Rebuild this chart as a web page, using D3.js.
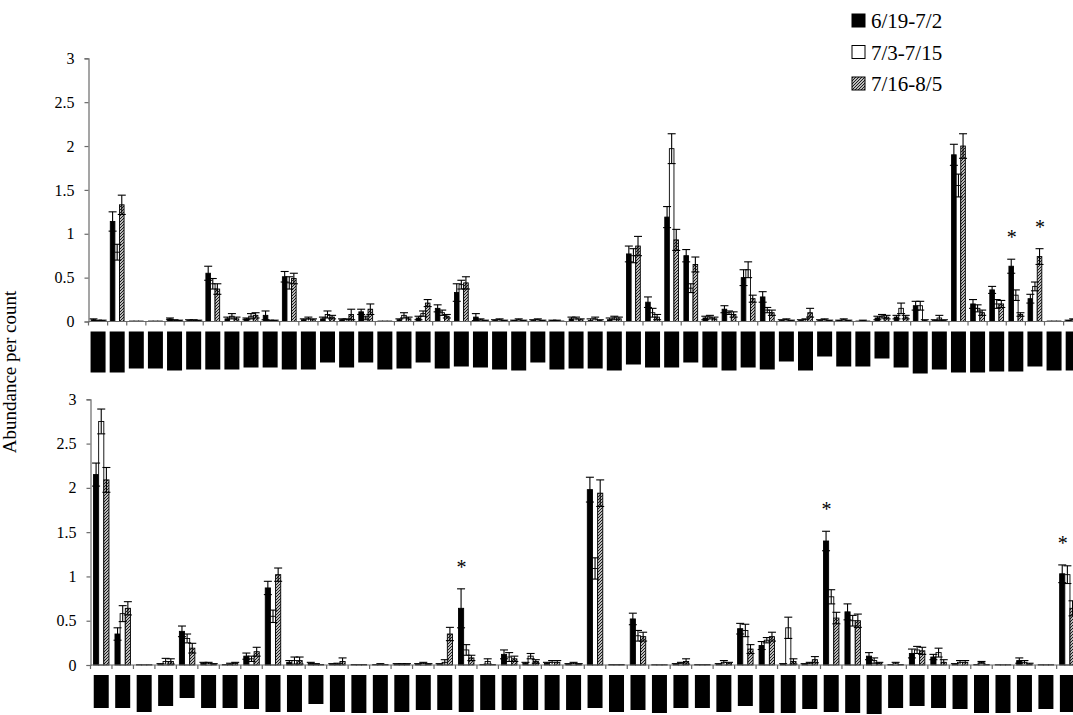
<!DOCTYPE html>
<html><head><meta charset="utf-8">
<script src="https://cdn.jsdelivr.net/npm/d3@7"></script>
<style>
html,body{margin:0;padding:0;background:#fff;}
svg{display:block;}
text{font-family:"Liberation Serif","Times New Roman",serif;}
</style></head>
<body>
<svg id="chart" width="1073" height="715"></svg>
<script>
// ---------- DATA ----------
const seriesNames = ["6/19-7/2", "7/3-7/15", "7/16-8/5"];
const yTickValues = [0, 0.5, 1, 1.5, 2, 2.5, 3];
const yTitle = "Abundance per count";

// top panel (52 categories)
const topA = [0.02,1.14,0.005,0.005,0.03,0.01,0.55,0.03,0.03,0.07,0.51,0.02,0.03,0.02,0.11,0.005,0.02,0.04,0.15,0.33,0.05,0.01,0.01,0.01,0.01,0.03,0.01,0.02,0.77,0.22,1.19,0.75,0.04,0.14,0.5,0.28,0.01,0.01,0.01,0.01,0.005,0.04,0.05,0.18,0.01,1.9,0.2,0.36,0.63,0.26,0.005,0.01];
const topB = [0.01,0.79,0.005,0.005,0.01,0.01,0.43,0.06,0.06,0.01,0.44,0.03,0.08,0.02,0.04,0.005,0.07,0.09,0.1,0.42,0.02,0.02,0.02,0.02,0.01,0.03,0.03,0.04,0.75,0.1,1.97,0.38,0.05,0.1,0.59,0.13,0.02,0.02,0.02,0.02,0.01,0.06,0.15,0.18,0.04,1.55,0.15,0.2,0.3,0.4,0.005,0.02];
const topC = [0.01,1.33,0.005,0.005,0.01,0.01,0.37,0.03,0.07,0.01,0.49,0.02,0.05,0.08,0.14,0.005,0.03,0.21,0.06,0.44,0.01,0.01,0.01,0.01,0.005,0.02,0.01,0.03,0.86,0.05,0.93,0.65,0.03,0.08,0.26,0.1,0.01,0.1,0.01,0.01,0.005,0.05,0.05,0.01,0.01,2.0,0.1,0.2,0.08,0.74,0.005,0.01];
const topAErr = [0.01,0.11,0,0,0.01,0.01,0.08,0.02,0.01,0.05,0.06,0.01,0.02,0.01,0.03,0,0.01,0.02,0.04,0.1,0.04,0.01,0.005,0.01,0.005,0.02,0.02,0.02,0.09,0.06,0.12,0.07,0.02,0.04,0.09,0.06,0.01,0.01,0.01,0.005,0,0.02,0.02,0.05,0.01,0.12,0.05,0.04,0.08,0.05,0,0.005];
const topBErr = [0.005,0.09,0,0,0.01,0.01,0.06,0.03,0.03,0.005,0.07,0.02,0.04,0.01,0.02,0,0.03,0.03,0.03,0.05,0.01,0.01,0.01,0.01,0.005,0.02,0.02,0.02,0.08,0.05,0.17,0.05,0.02,0.02,0.09,0.03,0.01,0.01,0.01,0.01,0.005,0.02,0.06,0.05,0.03,0.13,0.04,0.05,0.06,0.05,0,0.01];
const topCErr = [0.005,0.11,0,0,0.005,0.005,0.06,0.02,0.03,0.005,0.06,0.01,0.02,0.06,0.06,0,0.02,0.04,0.02,0.07,0.005,0.005,0.005,0.005,0,0.01,0.01,0.02,0.11,0.03,0.12,0.085,0.02,0.03,0.04,0.03,0.005,0.05,0.005,0.005,0,0.02,0.02,0.01,0.01,0.14,0.03,0.04,0.02,0.09,0,0.005];
const topLabelLen = [41,41,37,37,39,38,38,38,36,36,38,38,31,36,31,38,37,31,37,35,36,38,39,31,38,37,37,39,33,36,36,31,36,39,36,38,30,39,25,35,35,27,36,42,38,41,41,40,40,35,39,39];
const topStars = [{g:48, s:0}, {g:49, s:2}];

// bottom panel (46 categories)
const botA = [2.15,0.35,0.003,0.01,0.38,0.02,0.005,0.1,0.87,0.03,0.02,0.01,0.005,0.005,0.01,0.01,0.01,0.64,0.005,0.12,0.02,0.02,0.01,1.98,0.005,0.52,0.003,0.01,0.005,0.01,0.41,0.22,0.01,0.01,1.4,0.6,0.1,0.005,0.13,0.09,0.01,0.005,0.003,0.05,0.003,1.03];
const botB = [2.75,0.58,0.003,0.04,0.3,0.02,0.01,0.07,0.55,0.05,0.01,0.01,0.005,0.01,0.01,0.02,0.03,0.17,0.04,0.09,0.1,0.03,0.02,1.09,0.005,0.33,0.003,0.02,0.005,0.03,0.39,0.28,0.42,0.02,0.77,0.5,0.05,0.02,0.17,0.14,0.03,0.03,0.003,0.03,0.003,1.02];
const botC = [2.09,0.64,0.003,0.04,0.19,0.01,0.02,0.15,1.02,0.05,0.005,0.04,0.005,0.005,0.01,0.01,0.35,0.08,0.005,0.07,0.04,0.03,0.01,1.94,0.005,0.32,0.003,0.04,0.005,0.02,0.18,0.32,0.04,0.06,0.53,0.5,0.02,0.005,0.16,0.03,0.03,0.005,0.003,0.01,0.003,0.64];
const botAErr = [0.13,0.07,0,0.005,0.06,0.01,0,0.035,0.075,0.02,0.01,0.005,0,0,0.005,0.005,0.005,0.22,0,0.05,0.01,0.01,0.005,0.14,0,0.065,0,0.005,0,0.005,0.06,0.045,0.005,0.005,0.11,0.09,0.04,0,0.05,0.03,0.005,0,0,0.03,0,0.1];
const botBErr = [0.14,0.09,0,0.035,0.05,0.01,0.01,0.03,0.07,0.04,0.005,0.01,0,0.005,0.005,0.01,0.03,0.06,0.03,0.05,0.03,0.02,0.01,0.12,0,0.06,0,0.01,0,0.02,0.07,0.03,0.12,0.01,0.08,0.06,0.03,0.01,0.04,0.05,0.02,0.01,0,0.02,0,0.1];
const botCErr = [0.14,0.075,0,0.03,0.055,0.005,0.01,0.05,0.075,0.04,0,0.04,0,0,0.005,0.005,0.075,0.03,0,0.03,0.02,0.02,0.005,0.15,0,0.05,0,0.03,0,0.01,0.05,0.05,0.03,0.035,0.065,0.075,0.01,0,0.04,0.03,0.02,0,0,0.01,0,0.085];
const botLabelLen = [33,33,37,31,23,33,33,34,37,37,29,37,38,38,37,35,35,37,35,35,35,35,35,33,37,35,38,33,33,37,31,38,38,34,37,38,39,33,31,33,34,38,38,37,34,37];
const botStars = [{g:17, s:0}, {g:34, s:0}, {g:45, s:0}];

// ---------- CHART ----------
const svg = d3.select("#chart");
const defs = svg.append("defs");
const pat = defs.append("pattern").attr("id","hatch").attr("patternUnits","userSpaceOnUse")
  .attr("width",3).attr("height",3);
pat.append("rect").attr("width",3).attr("height",3).attr("fill","#fff");
pat.append("path").attr("d","M-1,1 L1,-1 M0,3 L3,0 M2,4 L4,2").attr("stroke","#111").attr("stroke-width",1.1);

const fills = ["#000", "#fff", "url(#hatch)"];
const axisColor = "#6a6a6a";

function drawPanel(p) {
  const n = p.A.length;
  const g = svg.append("g");
  const x = d3.scaleBand().domain(d3.range(n)).range([p.x0, p.x0 + n * p.step]).padding(0);
  const bw = x.bandwidth();
  const xs = d3.scaleBand().domain([0,1,2]).range([bw*0.14, bw*0.86]).padding(0);
  const y = d3.scaleLinear().domain([0,3]).range([p.yBase, p.yTop]);

  const vals = [p.A, p.B, p.C], errs = [p.AE, p.BE, p.CE];
  const rows = [];
  d3.range(n).forEach(i => [0,1,2].forEach(s => rows.push({i, s, v: vals[s][i], e: errs[s][i]})));

  // bars
  g.selectAll("rect.bar").data(rows).join("rect").attr("class","bar")
    .attr("x", d => x(d.i) + xs(d.s))
    .attr("width", xs.bandwidth())
    .attr("y", d => y(d.v))
    .attr("height", d => Math.max(0, y(0) - y(d.v)))
    .attr("fill", d => fills[d.s])
    .attr("stroke", "#000").attr("stroke-width", 0.9);

  // error bars
  const cap = 8;
  const eb = g.selectAll("g.err").data(rows.filter(d => d.e > 0)).join("g").attr("class","err")
    .attr("stroke","#000").attr("stroke-width",1.1);
  eb.append("line")
    .attr("x1", d => x(d.i) + xs(d.s) + xs.bandwidth()/2)
    .attr("x2", d => x(d.i) + xs(d.s) + xs.bandwidth()/2)
    .attr("y1", d => y(Math.max(0, d.v - d.e))).attr("y2", d => y(d.v + d.e));
  eb.append("line")
    .attr("x1", d => x(d.i) + xs(d.s) + xs.bandwidth()/2 - cap/2)
    .attr("x2", d => x(d.i) + xs(d.s) + xs.bandwidth()/2 + cap/2)
    .attr("y1", d => y(d.v + d.e)).attr("y2", d => y(d.v + d.e));
  eb.filter(d => d.v - d.e > 0.01).append("line")
    .attr("x1", d => x(d.i) + xs(d.s) + xs.bandwidth()/2 - cap/2)
    .attr("x2", d => x(d.i) + xs(d.s) + xs.bandwidth()/2 + cap/2)
    .attr("y1", d => y(d.v - d.e)).attr("y2", d => y(d.v - d.e));

  // significance stars
  g.selectAll("text.star").data(p.stars).join("text").attr("class","star")
    .attr("x", d => x(d.g) + xs(d.s) + xs.bandwidth()/2 + 0.5)
    .attr("y", d => y(vals[d.s][d.g] + errs[d.s][d.g]) - 15)
    .attr("text-anchor","middle").attr("font-size", 20).attr("fill","#000").text("*");

  // x axis line + boundary ticks
  g.append("line").attr("x1", p.x0).attr("x2", p.x0 + n*p.step)
    .attr("y1", y(0)).attr("y2", y(0)).attr("stroke", axisColor).attr("stroke-width",1.2);
  g.selectAll("line.xt").data(d3.range(n+1)).join("line").attr("class","xt")
    .attr("x1", i => p.x0 + i*p.step).attr("x2", i => p.x0 + i*p.step)
    .attr("y1", y(0)).attr("y2", y(0) + 4).attr("stroke", axisColor).attr("stroke-width",1.2);

  // redacted category labels (black boxes)
  g.selectAll("rect.lab").data(p.labels).join("rect").attr("class","lab")
    .attr("x", (d,i) => x(i) + bw/2 - 7.5).attr("width", 15)
    .attr("y", y(0) + 10).attr("height", d => d).attr("fill","#000");

  // y axis
  const ya = g.append("g").attr("transform", `translate(${p.x0},0)`)
    .call(d3.axisLeft(y).tickValues(yTickValues).tickFormat(d => String(d)).tickSize(4).tickPadding(10));
  ya.select(".domain").attr("stroke", axisColor).attr("stroke-width",1.2);
  ya.selectAll(".tick line").attr("stroke", axisColor).attr("stroke-width",1.2);
  ya.selectAll(".tick text").attr("font-family","Liberation Serif, Times New Roman, serif")
    .attr("font-size", 16).attr("fill","#000");
}

drawPanel({A: topA, B: topB, C: topC, AE: topAErr, BE: topBErr, CE: topCErr,
  labels: topLabelLen, stars: topStars, x0: 88.5, step: 19.12, yBase: 321.5, yTop: 58.3});
drawPanel({A: botA, B: botB, C: botC, AE: botAErr, BE: botBErr, CE: botCErr,
  labels: botLabelLen, stars: botStars, x0: 90.5, step: 21.47, yBase: 665, yTop: 399.3});

// y title
svg.append("text").attr("transform","translate(16,372) rotate(-90)")
  .attr("text-anchor","middle").attr("font-size",19).text(yTitle);

// legend
const lg = svg.append("g").attr("transform","translate(852,0)");
const li = lg.selectAll("g").data(seriesNames).join("g")
  .attr("transform", (d,i) => `translate(0,${21 + i*31.5})`);
li.append("rect").attr("x",0).attr("y",-7).attr("width",13).attr("height",13)
  .attr("fill",(d,i)=>fills[i]).attr("stroke","#000").attr("stroke-width",1);
li.append("text").attr("x",19).attr("y",7).attr("font-size",21).text(d => d);
</script>
</body></html>
